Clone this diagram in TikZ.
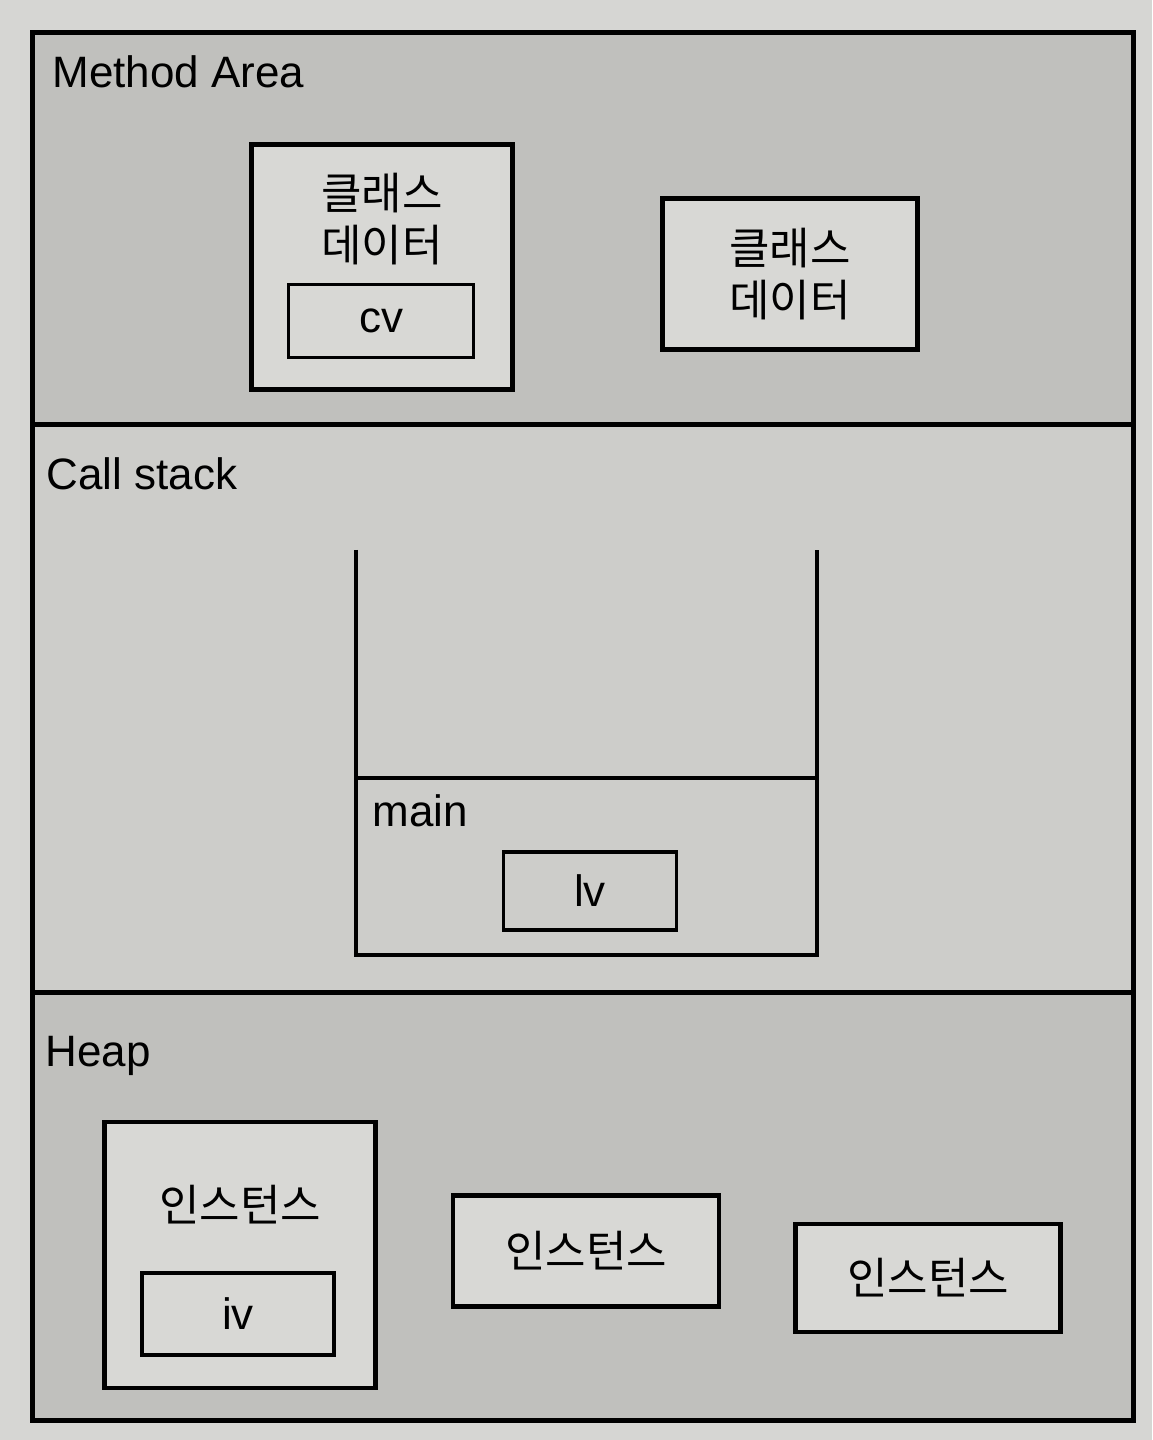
\documentclass[tikz,border=0pt]{standalone}
\usepackage{fontspec}
\setmainfont{Liberation Sans}
\newfontfamily\kor{Noto Sans CJK KR}
\usetikzlibrary{positioning}
\definecolor{pageGray}{HTML}{D6D6D3}
\definecolor{areaDark}{HTML}{C0C0BD}
\definecolor{areaLight}{HTML}{CDCDCA}
\definecolor{boxFill}{HTML}{D8D8D5}

\begin{document}
\begin{tikzpicture}[
    x=0.01cm, y=-0.01cm,
    area/.style={draw=black, line width=1.4pt, anchor=north west, minimum width=11cm, inner sep=0pt},
    box/.style={draw=black, line width=1.2pt, fill=boxFill, inner sep=0pt},
    inner/.style={draw=black, line width=1pt, inner sep=0pt},
    title/.style={anchor=base west, inner sep=0pt, font=\fontsize{12.5}{15}\selectfont},
    korlabel/.style={align=center, font=\kor\fontsize{12.5}{15}\selectfont},
    varlabel/.style={font=\fontsize{12.5}{15}\selectfont}
  ]
    \fill[pageGray] (0,0) rectangle (1152,1440);

    % three memory areas
    \node[area, fill=areaDark, minimum height=3.92cm] (method) at (30,30) {};
    \node[area, fill=areaLight, minimum height=5.68cm] (stack) at (30,422) {};
    \node[area, fill=areaDark, minimum height=4.28cm] (heap) at (30,990) {};

    \node[title] (methodtitle) at (52,88) {Method Area};
    \node[title] (stacktitle) at (46,490) {Call stack};
    \node[title] (heaptitle) at (45,1066) {Heap};

    % method area
    \node[box, minimum width=2.61cm, minimum height=2.45cm] (class1) at (382,267) {};
    \node[korlabel] (class1text) at (382,219) {클래스\\데이터};
    \node[inner, minimum width=1.85cm, minimum height=0.73cm, varlabel] (cv) at (381,321) {cv};
    \node[box, minimum width=2.55cm, minimum height=1.51cm, korlabel] (class2) at (790,274) {클래스\\데이터};

    % call stack
    \coordinate (stacktl) at (356,550);
    \coordinate (stacktr) at (817,550);
    \coordinate (stackbl) at (356,955);
    \coordinate (framel) at (356,778);
    \coordinate (framer) at (817,778);
    \draw[line width=1.2pt] (stacktl) |- (stackbl -| stacktr) -- (stacktr);
    \draw[line width=1.2pt] (framel) -- (framer);
    \node[title] (maintitle) at (372,826) {main};
    \node[inner, minimum width=1.73cm, minimum height=0.78cm, varlabel] (lv) at (590,891) {lv};

    % heap
    \node[box, minimum width=2.71cm, minimum height=2.66cm] (inst1) at (240,1255) {};
    \node[korlabel] (inst1text) at (240,1205) {인스턴스};
    \node[inner, minimum width=1.92cm, minimum height=0.82cm, varlabel] (iv) at (238,1314) {iv};
    \node[box, minimum width=2.66cm, minimum height=1.11cm, korlabel] (inst2) at (586,1251) {인스턴스};
    \node[box, minimum width=2.65cm, minimum height=1.08cm, korlabel] (inst3) at (928,1278) {인스턴스};
  \end{tikzpicture}
\end{document}
